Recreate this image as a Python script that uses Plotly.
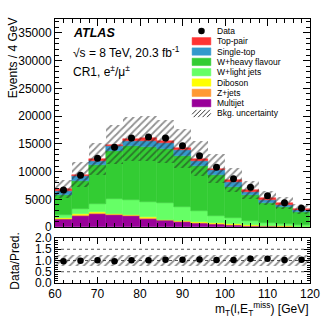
import numpy as np
import plotly.graph_objects as go

# ---------------- data ----------------
bin_centers = [62, 66, 70, 74, 78, 82, 86, 90, 94, 98, 102, 106, 110, 114, 118]
bin_width = 4
data = [6700, 9350, 12420, 14400, 16050, 16220, 16050, 14640, 12860, 10770, 8700, 7200, 5650, 4370, 3400]
multijet = [1400, 2050, 2400, 2200, 1950, 1550, 1200, 920, 750, 550, 400, 240, 150, 100, 60]
zjets = [150, 200, 180, 170, 150, 130, 110, 100, 80, 70, 50, 40, 30, 20, 15]
diboson = [50, 70, 80, 80, 80, 70, 60, 55, 50, 40, 35, 30, 25, 20, 15]
wlight = [540, 1010, 1570, 2670, 2700, 2830, 3010, 2555, 2010, 1420, 1215, 880, 565, 400, 270]
wheavy = [3690, 5060, 6970, 8580, 9700, 9920, 9720, 9110, 8110, 7270, 5600, 4520, 3630, 3030, 2320]
singletop = [750, 760, 750, 860, 870, 1100, 1050, 1130, 980, 900, 900, 620, 500, 400, 330]
toppair = [320, 280, 350, 290, 400, 400, 350, 330, 370, 300, 300, 320, 350, 310, 260]
rel_unc = [0.23, 0.24, 0.23, 0.24, 0.25, 0.25, 0.25, 0.25, 0.25, 0.25, 0.25, 0.25, 0.25, 0.25, 0.25]

x_ticks = [60, 70, 80, 90, 100, 110, 120]

components = [
    ("Multijet", multijet, "#990099"),
    ("Z+jets", zjets, "#ff9933"),
    ("Diboson", diboson, "#ffff00"),
    ("W+light jets", wlight, "#66ff66"),
    ("W+heavy flavour", wheavy, "#33cc33"),
    ("Single-top", singletop, "#3399cc"),
    ("Top-pair", toppair, "#ff3333"),
]

FONT = "Liberation Sans, Arial, Helvetica, sans-serif"
W, H = 332, 319
ML, MR, MT, MB = 55, 19, 17, 36


def px(x):
    return (x - ML) / (W - ML - MR)


def py(y):
    return (H - MB - y) / (H - MT - MB)


HATCH = dict(shape="/", fgcolor="#222222", bgcolor="rgba(0,0,0,0)", size=5, solidity=0.35)

fig = go.Figure()

# stacked backgrounds
cum = np.zeros(len(bin_centers))
for name, vals, col in components:
    v = np.array(vals, dtype=float)
    fig.add_trace(go.Bar(
        x=bin_centers, y=v, base=cum.copy(), width=bin_width,
        marker=dict(color=col, line=dict(color=col, width=0.5)),
        name=name, showlegend=False, xaxis="x", yaxis="y"))
    cum = cum + v
total = cum
unc = total * np.array(rel_unc)

# uncertainty hatch (top)
fig.add_trace(go.Bar(
    x=bin_centers, y=2 * unc, base=total - unc, width=bin_width,
    marker=dict(color="rgba(0,0,0,0)", pattern=HATCH, line=dict(width=0)),
    showlegend=False, xaxis="x", yaxis="y"))

# data
fig.add_trace(go.Scatter(
    x=bin_centers, y=data, mode="markers",
    marker=dict(color="black", size=7), showlegend=False, xaxis="x", yaxis="y"))

# ratio panel
ratio = np.array(data) / total
fig.add_trace(go.Bar(
    x=bin_centers, y=2 * np.array(rel_unc), base=1 - np.array(rel_unc), width=bin_width,
    marker=dict(color="rgba(0,0,0,0)", pattern=HATCH, line=dict(width=0)),
    showlegend=False, xaxis="x2", yaxis="y2"))
fig.add_trace(go.Scatter(
    x=bin_centers, y=ratio, mode="markers",
    marker=dict(color="black", size=6.5), showlegend=False, xaxis="x2", yaxis="y2"))

shapes = []
for lvl in [0.5, 1.0, 1.5]:
    shapes.append(dict(type="line", xref="x2", yref="y2", x0=60, x1=120, y0=lvl, y1=lvl,
                       line=dict(color="#555555", width=1, dash="dot"), layer="below"))

annotations = []
# manual legend
legend_items = [
    ("Data", "marker", "black"),
    ("Top-pair", "box", "#ff3333"),
    ("Single-top", "box", "#3399cc"),
    ("W+heavy flavour", "box", "#33cc33"),
    ("W+light jets", "box", "#66ff66"),
    ("Diboson", "box", "#ffff00"),
    ("Z+jets", "box", "#ff9933"),
    ("Multijet", "box", "#990099"),
    ("Bkg. uncertainty", "hatch", "black"),
]
bx0, bx1 = 193.7, 212.7
for i, (label, kind, col) in enumerate(legend_items):
    yc = 29 + 10.4 * i
    y0, y1 = yc - 3.7, yc + 3.7
    if kind == "box":
        shapes.append(dict(type="rect", xref="paper", yref="paper",
                           x0=px(bx0), x1=px(bx1), y0=py(y1), y1=py(y0),
                           fillcolor=col, line=dict(color=col, width=0.5)))
    elif kind == "marker":
        r = 3.3
        xc = (bx0 + bx1) / 2
        shapes.append(dict(type="circle", xref="paper", yref="paper",
                           x0=px(xc - r), x1=px(xc + r), y0=py(yc + r), y1=py(yc - r),
                           fillcolor="black", line=dict(color="black", width=0)))
    else:
        h = y1 - y0
        c = bx0 - h
        while c < bx1:
            xs, ys = c, y1
            xe, ye = c + h, y0
            if xs < bx0:
                ys = y1 - (bx0 - xs)
                xs = bx0
            if xe > bx1:
                ye = y0 + (xe - bx1)
                xe = bx1
            if xe > xs:
                shapes.append(dict(type="line", xref="paper", yref="paper",
                                   x0=px(xs), x1=px(xe), y0=py(ys), y1=py(ye),
                                   line=dict(color="black", width=0.8)))
            c += 4.5
    annotations.append(dict(text=label, xref="paper", yref="paper", x=px(216.5), y=py(yc),
                            xanchor="left", yanchor="middle", showarrow=False,
                            font=dict(family=FONT, size=8.5, color="black")))

annotations += [
    dict(text="<b><i>ATLAS</i></b>", xref="paper", yref="paper", x=px(71), y=py(31),
         xanchor="left", yanchor="middle", showarrow=False,
         font=dict(family=FONT, size=12.5, color="black")),
    dict(text="√s = 8 TeV, 20.3 fb<sup>-1</sup>", xref="paper", yref="paper", x=px(71), y=py(50),
         xanchor="left", yanchor="middle", showarrow=False,
         font=dict(family=FONT, size=12, color="black")),
    dict(text="CR1, e<sup>±</sup>/μ<sup>±</sup>", xref="paper", yref="paper", x=px(71), y=py(69),
         xanchor="left", yanchor="middle", showarrow=False,
         font=dict(family=FONT, size=12, color="black")),
    dict(text="Events / 4 GeV", xref="paper", yref="paper", x=px(12), y=py(56),
         xanchor="center", yanchor="middle", textangle=-90, showarrow=False,
         font=dict(family=FONT, size=12, color="black")),
    dict(text="Data/Pred.", xref="paper", yref="paper", x=px(15), y=py(261),
         xanchor="center", yanchor="middle", textangle=-90, showarrow=False,
         font=dict(family=FONT, size=12, color="black")),
    dict(text="m<sub>T</sub>(l,E<sub>T</sub><sup>miss</sup>) [GeV]", xref="paper", yref="paper",
         x=px(313), y=py(309), xanchor="right", yanchor="middle", showarrow=False,
         font=dict(family=FONT, size=12, color="black")),
]

axis_common = dict(showline=True, linecolor="black", linewidth=1, mirror="ticks",
                   ticks="inside", tickcolor="black", tickwidth=1, showgrid=False,
                   zeroline=False, tickfont=dict(family=FONT, size=12, color="black"))

fig.update_layout(
    width=W, height=H,
    margin=dict(l=ML, r=MR, t=MT, b=MB),
    paper_bgcolor="white", plot_bgcolor="white",
    barmode="overlay", bargap=0,
    showlegend=False,
    font=dict(family=FONT, size=12, color="black"),
    xaxis=dict(domain=[0, 1], anchor="y", range=[60, 120], tickvals=x_ticks,
               showticklabels=False, ticklen=7,
               minor=dict(dtick=2, ticklen=4, ticks="inside", tickcolor="black"),
               **axis_common),
    yaxis=dict(domain=[py(226.7), 1], anchor="x", range=[0, 37500], dtick=5000, ticklen=7,
               tickformat="d",
               minor=dict(dtick=1000, ticklen=4, ticks="inside", tickcolor="black"),
               **axis_common),
    xaxis2=dict(domain=[0, 1], anchor="y2", range=[60, 120], tickvals=x_ticks, ticklen=6,
                minor=dict(dtick=2, ticklen=3, ticks="inside", tickcolor="black"),
                **axis_common),
    yaxis2=dict(domain=[0, py(237.7)], anchor="x2", range=[0, 2], dtick=0.5, tickformat=".1f",
                ticklen=6,
                minor=dict(dtick=0.1, ticklen=3, ticks="inside", tickcolor="black"),
                **axis_common),
    shapes=shapes,
    annotations=annotations,
)

fig.write_html("out.html", config={"displayModeBar": False},
               post_script="document.body.style.margin='0';document.body.style.overflow='hidden';")
